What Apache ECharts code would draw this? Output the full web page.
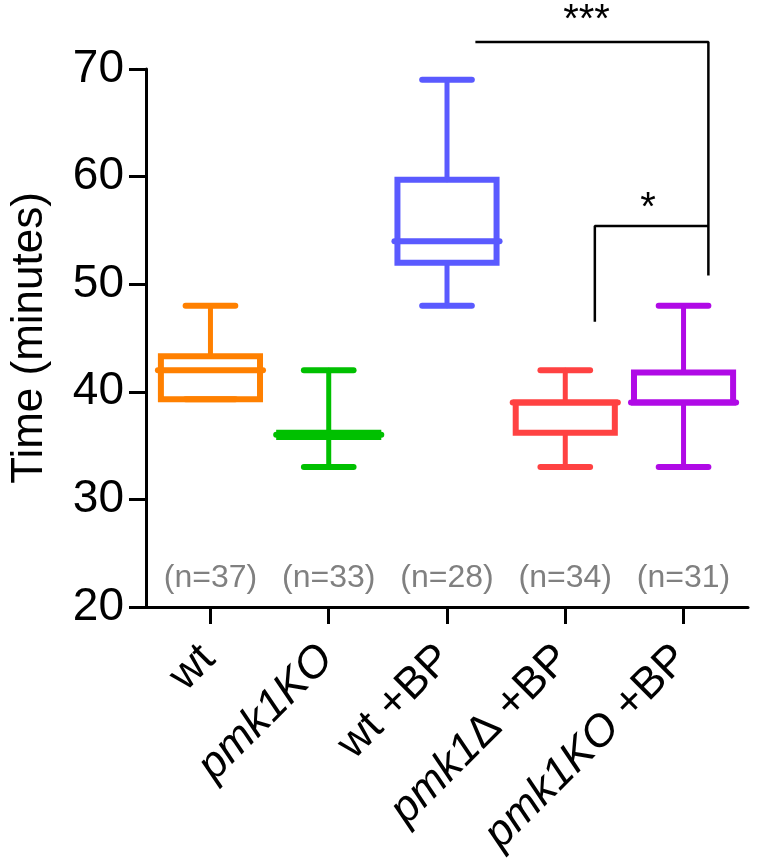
<!DOCTYPE html>
<html><head><meta charset="utf-8">
<script src="https://cdn.jsdelivr.net/npm/echarts@6/dist/echarts.min.js"></script>
<style>html,body{margin:0;padding:0;background:#fff}#c{width:761px;height:866px}</style>
</head><body><div id="c"></div>
<script>
// ---- data ----
const categories = ['wt', 'pmk1KO', 'wt +BP', 'pmk1Δ +BP', 'pmk1KO +BP'];
const categoryRich = ['wt', '{i|pmk1KO}', 'wt +BP', '{i|pmk1}Δ +BP', '{i|pmk1KO} +BP'];
const whiskerLow = [39.3, 33, 48, 33, 33];
const quartile1 = [39.3, 35.8, 52, 36.2, 39];
const medians = [42, 36, 54, 39, 39];
const quartile3 = [43.3, 36.2, 59.7, 39, 41.8];
const whiskerHigh = [48, 42, 69, 42, 48];
const nLabels = ['(n=37)', '(n=33)', '(n=28)', '(n=34)', '(n=31)'];
const nLabelLevel = 22.7;
const yTicks = [20, 30, 40, 50, 60, 70];
const bracketTriple = [[2.24, 72.5], [4.21, 72.5], [4.21, 50.8]];
const bracketSingle = [[3.25, 46.5], [3.25, 55.4], [4.21, 55.4]];
const sigText = ['***', '*'];
const sigX = [3.18, 3.70];
const sigY = [74.5, 57.0];

// ---- styles ----
const boxColors = ['#ff8000', '#00c000', '#5a5aff', '#ff4242', '#b00ae6'];
const FONT = 'Liberation Sans, Arial, Helvetica, sans-serif';
const BOX_W = 0.838;   // in category units
const CAP_W = 0.42;

const boxData = categories.map((c, i) => [i, whiskerLow[i], quartile1[i], medians[i], quartile3[i], whiskerHigh[i]]);
const nData = nLabels.map((t, i) => [i, nLabelLevel]);
const sigData = sigText.map((t, i) => [sigX[i], sigY[i]]);

const chart = echarts.init(document.getElementById('c'), null, {renderer: 'canvas'});
chart.setOption({
  animation: false,
  backgroundColor: '#fff',
  grid: {left: 141, right: 13, top: 69, bottom: 259, containLabel: false},
  xAxis: {
    type: 'value', min: -0.545, max: 4.545,
    splitLine: {show: false},
    axisLine: {show: true, onZero: false, lineStyle: {color: '#000', width: 3}},
    axisTick: {show: true, customValues: [0, 1, 2, 3, 4], length: 17, lineStyle: {color: '#000', width: 3}},
    axisLabel: {
      show: true, customValues: [0, 1, 2, 3, 4], rotate: 45, margin: 12,
      fontSize: 44, fontFamily: FONT, color: '#000', align: 'right', verticalAlign: 'top', lineHeight: 44,
      padding: [0, 25, 0, 0],
      formatter: v => categoryRich[Math.round(v)],
      rich: {i: {fontStyle: 'italic', fontSize: 44, fontFamily: FONT, color: '#000', lineHeight: 44}}
    }
  },
  yAxis: {
    type: 'value', min: 20, max: 70, interval: 10,
    name: 'Time (minutes)', nameLocation: 'middle', nameGap: 94, nameRotate: 90,
    nameTextStyle: {fontSize: 44, fontFamily: FONT, color: '#000'},
    splitLine: {show: false},
    axisLine: {show: true, onZero: false, lineStyle: {color: '#000', width: 3}},
    axisTick: {show: true, length: 17, lineStyle: {color: '#000', width: 3}},
    axisLabel: {fontSize: 46, fontFamily: FONT, color: '#000', margin: 22,
      formatter: v => (yTicks.indexOf(v) >= 0 ? String(v) : '')}
  },
  series: [
    {
      type: 'custom', clip: false,
      encode: {x: 0, y: [1, 2, 3, 4, 5]},
      data: boxData,
      renderItem(params, api) {
        const i = api.value(0);
        const col = boxColors[params.dataIndex];
        const pMin = api.coord([i, api.value(1)]);
        const pQ1 = api.coord([i, api.value(2)]);
        const pMed = api.coord([i, api.value(3)]);
        const pQ3 = api.coord([i, api.value(4)]);
        const pMax = api.coord([i, api.value(5)]);
        const cx = pMed[0];
        const bw = api.size([BOX_W, 0])[0];
        const cw = api.size([CAP_W, 0])[0];
        const L = cx - bw / 2, R = cx + bw / 2;
        const ln = (x1, y1, x2, y2, w) => ({type: 'line', shape: {x1, y1, x2, y2},
          style: {stroke: col, lineWidth: w, lineCap: 'round'}});
        return {type: 'group', children: [
          ln(cx, pMax[1], cx, pQ3[1], 5),
          ln(cx, pQ1[1], cx, pMin[1], 5),
          ln(cx - cw / 2, pMax[1], cx + cw / 2, pMax[1], 6),
          ln(cx - cw / 2, pMin[1], cx + cw / 2, pMin[1], 6),
          {type: 'rect', shape: {x: L, y: pQ3[1], width: bw, height: pQ1[1] - pQ3[1]},
            style: {fill: 'none', stroke: col, lineWidth: 6, lineJoin: 'miter'}},
          ln(L - 3, pMed[1], R + 3, pMed[1], 6)
        ]};
      }
    },
    {
      type: 'custom', clip: false, encode: {x: 0, y: 1}, data: nData,
      renderItem(params, api) {
        const p = api.coord([api.value(0), api.value(1)]);
        return {type: 'text', x: p[0], y: p[1], style: {text: nLabels[params.dataIndex],
          fill: '#808080', fontSize: 32, fontFamily: FONT, align: 'center', verticalAlign: 'middle'}};
      }
    },
    {type: 'line', data: bracketTriple, symbol: 'none', clip: false, silent: true,
      lineStyle: {color: '#000', width: 2.5}},
    {type: 'line', data: bracketSingle, symbol: 'none', clip: false, silent: true,
      lineStyle: {color: '#000', width: 2.5}},
    {
      type: 'custom', clip: false, encode: {x: 0, y: 1}, data: sigData,
      renderItem(params, api) {
        const p = api.coord([api.value(0), api.value(1)]);
        return {type: 'text', x: p[0], y: p[1], style: {text: sigText[params.dataIndex],
          fill: '#000', fontSize: 40, fontFamily: FONT, align: 'center', verticalAlign: 'middle'}};
      }
    }
  ]
});
</script></body></html>
